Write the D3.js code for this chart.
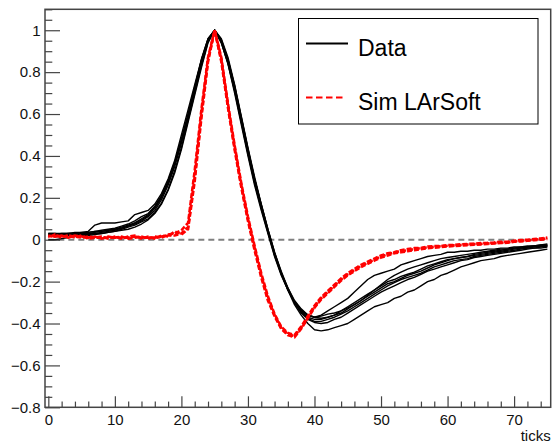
<!DOCTYPE html>
<html>
<head>
<meta charset="utf-8">
<script src="https://cdn.jsdelivr.net/npm/d3@7"></script>
<style>
  html, body { margin: 0; padding: 0; background: #fff; }
  svg { display: block; font-family: "Liberation Sans", Arial, Helvetica, sans-serif; }
</style>
</head>
<body>
<svg id="chart" width="553" height="443"></svg>
<script>
// ---------------- data ----------------
const TICKS = d3.range(0, 76); // sample index (ticks)

const DATA_1 = [0.03,0.03,0.03,0.03,0.035,0.035,0.04,0.07,0.08,0.08,0.08,0.085,0.09,0.12,0.13,0.14,0.17,0.22,0.29,0.38,0.50,0.62,0.74,0.86,0.96,1.0,
  0.94,0.84,0.70,0.55,0.40,0.26,0.14,0.03,-0.08,-0.17,-0.24,-0.30,-0.34,-0.36,-0.37,-0.36,-0.34,-0.32,-0.30,-0.28,-0.25,-0.22,-0.19,-0.17,-0.16,-0.15,-0.14,-0.12,-0.11,-0.10,-0.09,-0.08,-0.075,-0.07,-0.06,-0.06,-0.055,-0.055,-0.05,-0.05,-0.045,-0.045,-0.04,-0.04,-0.035,-0.035,-0.03,-0.03,-0.025,-0.02];
const DATA_2 = [0.02,0.02,0.025,0.025,0.025,0.03,0.03,0.035,0.04,0.045,0.05,0.06,0.07,0.08,0.095,0.115,0.15,0.20,0.27,0.36,0.47,0.59,0.72,0.85,0.95,1.0,
  0.95,0.85,0.72,0.57,0.42,0.28,0.16,0.04,-0.07,-0.16,-0.23,-0.29,-0.33,-0.36,-0.37,-0.375,-0.37,-0.36,-0.35,-0.33,-0.31,-0.29,-0.27,-0.25,-0.23,-0.21,-0.20,-0.185,-0.17,-0.16,-0.15,-0.135,-0.12,-0.11,-0.10,-0.09,-0.085,-0.08,-0.075,-0.07,-0.065,-0.06,-0.055,-0.05,-0.045,-0.04,-0.04,-0.035,-0.03,-0.03];
const DATA_3 = [0.025,0.02,0.02,0.02,0.025,0.025,0.03,0.03,0.035,0.04,0.045,0.055,0.065,0.075,0.09,0.11,0.14,0.19,0.26,0.35,0.46,0.58,0.71,0.84,0.95,1.0,
  0.95,0.86,0.73,0.58,0.43,0.29,0.17,0.05,-0.06,-0.15,-0.23,-0.30,-0.35,-0.38,-0.395,-0.40,-0.395,-0.38,-0.37,-0.35,-0.33,-0.31,-0.29,-0.27,-0.25,-0.235,-0.22,-0.205,-0.19,-0.18,-0.165,-0.15,-0.14,-0.13,-0.12,-0.11,-0.10,-0.095,-0.085,-0.08,-0.075,-0.07,-0.065,-0.06,-0.055,-0.05,-0.045,-0.04,-0.04,-0.035];
const DATA_4 = [0.03,0.03,0.025,0.03,0.03,0.035,0.035,0.04,0.045,0.05,0.055,0.065,0.075,0.09,0.11,0.125,0.16,0.21,0.28,0.37,0.48,0.60,0.73,0.86,0.96,1.0,
  0.94,0.84,0.71,0.56,0.41,0.27,0.15,0.035,-0.075,-0.165,-0.24,-0.30,-0.34,-0.37,-0.38,-0.38,-0.37,-0.36,-0.34,-0.32,-0.30,-0.28,-0.26,-0.24,-0.22,-0.20,-0.19,-0.175,-0.165,-0.155,-0.14,-0.125,-0.115,-0.105,-0.095,-0.09,-0.085,-0.08,-0.07,-0.065,-0.06,-0.055,-0.05,-0.045,-0.04,-0.04,-0.035,-0.03,-0.03,-0.025];
const DATA_5 = [0.02,0.015,0.015,0.02,0.02,0.025,0.025,0.03,0.03,0.035,0.04,0.05,0.06,0.07,0.085,0.10,0.13,0.175,0.24,0.33,0.44,0.57,0.70,0.83,0.945,1.0,
  0.955,0.86,0.735,0.585,0.435,0.29,0.165,0.045,-0.065,-0.155,-0.235,-0.30,-0.345,-0.375,-0.39,-0.39,-0.38,-0.37,-0.355,-0.34,-0.32,-0.30,-0.28,-0.26,-0.24,-0.22,-0.205,-0.19,-0.18,-0.17,-0.16,-0.145,-0.13,-0.12,-0.11,-0.10,-0.095,-0.09,-0.08,-0.075,-0.07,-0.065,-0.06,-0.055,-0.05,-0.045,-0.04,-0.04,-0.035,-0.03];
const DATA_6 = [0.025,0.025,0.03,0.03,0.03,0.03,0.035,0.04,0.04,0.045,0.05,0.055,0.065,0.08,0.10,0.12,0.155,0.205,0.275,0.365,0.475,0.595,0.725,0.855,0.955,1.0,
  0.945,0.845,0.715,0.565,0.415,0.275,0.155,0.04,-0.07,-0.16,-0.235,-0.295,-0.335,-0.36,-0.37,-0.365,-0.355,-0.35,-0.34,-0.325,-0.31,-0.29,-0.265,-0.24,-0.215,-0.19,-0.17,-0.155,-0.14,-0.13,-0.12,-0.11,-0.10,-0.09,-0.085,-0.08,-0.075,-0.07,-0.065,-0.06,-0.055,-0.05,-0.045,-0.045,-0.04,-0.035,-0.035,-0.03,-0.025,-0.025];
const DATA_7 = [0.0,0.0,0.005,0.01,0.015,0.02,0.02,0.025,0.03,0.035,0.04,0.045,0.05,0.06,0.075,0.095,0.125,0.17,0.235,0.32,0.43,0.56,0.69,0.82,0.94,1.0,
  0.96,0.87,0.74,0.59,0.44,0.30,0.17,0.05,-0.06,-0.16,-0.24,-0.31,-0.36,-0.40,-0.43,-0.435,-0.43,-0.42,-0.41,-0.40,-0.38,-0.36,-0.34,-0.32,-0.31,-0.30,-0.28,-0.27,-0.25,-0.24,-0.22,-0.20,-0.19,-0.17,-0.16,-0.145,-0.13,-0.12,-0.11,-0.10,-0.095,-0.09,-0.08,-0.075,-0.07,-0.065,-0.06,-0.055,-0.05,-0.045];

const SIM_1 = [0.015,0.02,0.015,0.02,0.015,0.01,0.015,0.01,0.01,0.01,0.01,0.01,0.01,0.015,0.01,0.01,0.01,0.015,0.02,0.02,0.03,0.06,0.30,0.60,0.86,1.0,
  0.86,0.64,0.44,0.26,0.10,-0.04,-0.17,-0.28,-0.36,-0.42,-0.45,-0.46,-0.42,-0.37,-0.32,-0.28,-0.25,-0.22,-0.19,-0.165,-0.145,-0.125,-0.11,-0.095,-0.08,-0.07,-0.06,-0.055,-0.05,-0.045,-0.04,-0.037,-0.034,-0.031,-0.029,-0.027,-0.025,-0.023,-0.021,-0.02,-0.018,-0.016,-0.014,-0.012,-0.008,-0.005,-0.003,0.0,0.003,0.006];
const SIM_2 = [0.02,0.015,0.02,0.01,0.02,0.015,0.01,0.015,0.005,0.015,0.01,0.015,0.005,0.01,0.015,0.005,0.015,0.01,0.025,0.03,0.045,0.08,0.33,0.62,0.87,1.0,
  0.87,0.65,0.45,0.27,0.11,-0.03,-0.16,-0.27,-0.355,-0.415,-0.445,-0.455,-0.415,-0.365,-0.315,-0.275,-0.245,-0.215,-0.185,-0.16,-0.14,-0.12,-0.105,-0.09,-0.075,-0.065,-0.06,-0.05,-0.045,-0.04,-0.04,-0.033,-0.03,-0.03,-0.025,-0.025,-0.022,-0.02,-0.02,-0.016,-0.015,-0.013,-0.01,-0.01,-0.005,-0.002,0.0,0.003,0.006,0.01];
const SIM_3 = [0.01,0.025,0.01,0.02,0.01,0.02,0.005,0.01,0.015,0.005,0.015,0.005,0.015,0.02,0.005,0.015,0.005,0.02,0.015,0.04,0.025,0.05,0.28,0.58,0.85,1.0,
  0.85,0.63,0.43,0.25,0.09,-0.05,-0.18,-0.29,-0.365,-0.425,-0.455,-0.465,-0.425,-0.375,-0.325,-0.285,-0.255,-0.225,-0.195,-0.17,-0.15,-0.13,-0.115,-0.10,-0.085,-0.075,-0.065,-0.06,-0.055,-0.05,-0.045,-0.04,-0.038,-0.035,-0.032,-0.03,-0.028,-0.026,-0.024,-0.022,-0.02,-0.018,-0.016,-0.014,-0.01,-0.008,-0.005,-0.002,0.0,0.004];

const DATA_SERIES = [DATA_1, DATA_2, DATA_3, DATA_4, DATA_5, DATA_6, DATA_7];
const SIM_SERIES = [SIM_1, SIM_2, SIM_3];

const X_TICKS = [0, 10, 20, 30, 40, 50, 60, 70];
const X_TICK_LABELS = ["0", "10", "20", "30", "40", "50", "60", "70"];
const Y_TICKS = [-0.8, -0.6, -0.4, -0.2, 0, 0.2, 0.4, 0.6, 0.8, 1];
const Y_TICK_LABELS = ["\u22120.8", "\u22120.6", "\u22120.4", "\u22120.2", "0", "0.2", "0.4", "0.6", "0.8", "1"];
const LEGEND_LABELS = ["Data", "Sim LArSoft"];
const X_TITLE = "ticks";

// ---------------- layout ----------------
const svg = d3.select("#chart");
const L = 45, R = 550.7, T = 9.3, B = 407.3;
const x = d3.scaleLinear().domain([-0.5, 75.5]).range([L, R]);
const y = d3.scaleLinear().domain([-0.8, 1.1]).range([B, T]);
const FONT = "15px";
const AXIS_COL = "#444";

// clip
svg.append("defs").append("clipPath").attr("id", "clip")
  .append("rect").attr("x", L).attr("y", T).attr("width", R - L).attr("height", B - T);

// zero dashed line
svg.append("line")
  .attr("x1", x(0)).attr("x2", x(75))
  .attr("y1", y(0)).attr("y2", y(0))
  .attr("stroke", "#808080").attr("stroke-width", 2)
  .attr("stroke-dasharray", "6,4");

const line = d3.line().x((d, i) => x(TICKS[i])).y(d => y(d));

const plot = svg.append("g").attr("clip-path", "url(#clip)");
plot.selectAll("path.data").data(DATA_SERIES).join("path")
  .attr("class", "data")
  .attr("d", line)
  .attr("fill", "none").attr("stroke", "#000").attr("stroke-width", 1.4)
  .attr("stroke-linejoin", "round");

const dashOffsets = [0, 2.5, 4.5];
plot.selectAll("path.sim").data(SIM_SERIES).join("path")
  .attr("class", "sim")
  .attr("d", line)
  .attr("fill", "none").attr("stroke", "#ff0000").attr("stroke-width", 2.6)
  .attr("stroke-dasharray", "5,2")
  .attr("stroke-dashoffset", (d, i) => dashOffsets[i]);

// ---------------- axes ----------------
const xMinor = d3.range(0, 76, 2).filter(v => v % 10 !== 0);
const yMinor = d3.range(-16, 22).map(k => k * 0.05).filter(v => Math.abs(Math.round(v * 10) % 2) === 1 || Math.abs(v * 20 % 4) > 0.01);

const xAxis = d3.axisBottom(x).tickValues(X_TICKS)
  .tickFormat((d, i) => X_TICK_LABELS[i]).tickSizeInner(-11).tickSizeOuter(0).tickPadding(7);
const gx = svg.append("g").attr("transform", `translate(0,${B})`).call(xAxis);
svg.append("g").attr("transform", `translate(0,${B})`)
  .call(d3.axisBottom(x).tickValues(xMinor).tickFormat("").tickSizeInner(-5.7).tickSizeOuter(0));

const yAxis = d3.axisLeft(y).tickValues(Y_TICKS)
  .tickFormat((d, i) => Y_TICK_LABELS[i]).tickSizeInner(-15).tickSizeOuter(0).tickPadding(4.5);
const gy = svg.append("g").attr("transform", `translate(${L},0)`).call(yAxis);
const yMinorVals = d3.range(-16, 23).map(k => +(k * 0.05).toFixed(2)).filter(v => Math.abs(Math.round(v * 100) % 20) !== 0 && v <= 1.1);
svg.append("g").attr("transform", `translate(${L},0)`)
  .call(d3.axisLeft(y).tickValues(yMinorVals).tickFormat("").tickSizeInner(-7.3).tickSizeOuter(0));

svg.selectAll(".domain").remove();
svg.selectAll(".tick line").attr("stroke", AXIS_COL).attr("stroke-width", 1.2);
svg.selectAll(".tick text").attr("font-size", FONT).attr("fill", "#111")
  .attr("font-family", "'Liberation Sans', Arial, Helvetica, sans-serif");

// frame
svg.append("rect").attr("x", L).attr("y", T).attr("width", R - L).attr("height", B - T)
  .attr("fill", "none").attr("stroke", AXIS_COL).attr("stroke-width", 1.5);

// axis title
svg.append("text").attr("x", R).attr("y", 441).attr("text-anchor", "end")
  .attr("font-size", "15px").attr("fill", "#111").text(X_TITLE);

// ---------------- legend ----------------
const lg = svg.append("g");
lg.append("rect").attr("x", 298.5).attr("y", 18.5).attr("width", 239.5).attr("height", 105.5)
  .attr("fill", "#fff").attr("stroke", "#000").attr("stroke-width", 1);
lg.append("line").attr("x1", 306).attr("x2", 348).attr("y1", 43.5).attr("y2", 43.5)
  .attr("stroke", "#000").attr("stroke-width", 2);
lg.append("line").attr("x1", 306).attr("x2", 345).attr("y1", 97.5).attr("y2", 97.5)
  .attr("stroke", "#ff0000").attr("stroke-width", 2).attr("stroke-dasharray", "6.5,3.5");
lg.append("text").attr("x", 358).attr("y", 55.5).attr("font-size", "23px").attr("fill", "#000").text(LEGEND_LABELS[0]);
lg.append("text").attr("x", 358).attr("y", 109.5).attr("font-size", "23px").attr("fill", "#000").text(LEGEND_LABELS[1]);
</script>
</body>
</html>
